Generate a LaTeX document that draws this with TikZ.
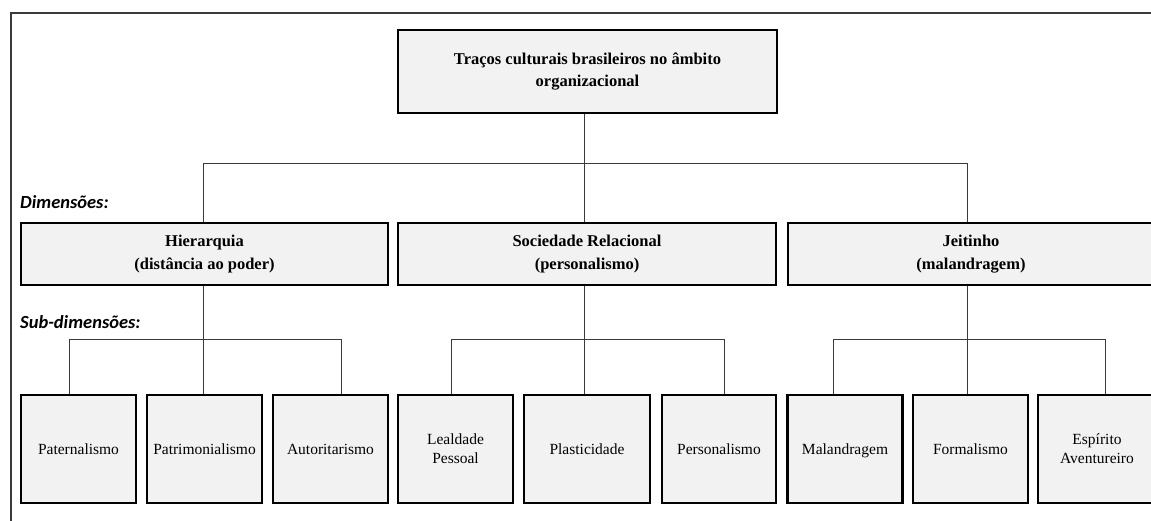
\documentclass[tikz,border=0pt]{standalone}
\usepackage{fontspec}
\setmainfont{Liberation Serif}
\newfontfamily\labelfont{Carlito}
\definecolor{boxgray}{HTML}{F2F2F2}
\definecolor{linegray}{HTML}{3A3A3A}
\begin{document}
\begin{tikzpicture}[x=1pt,y=-1pt,
  box/.style={draw=black, line width=2.8pt, fill=boxgray, inner sep=0pt, align=center},
  rootbox/.style={box, minimum width=379pt, minimum height=83pt, font=\fontsize{16.5}{21}\selectfont\bfseries},
  dimbox/.style={box, minimum height=62pt, font=\fontsize{16.5}{22.5}\selectfont\bfseries},
  subbox/.style={box, minimum height=108pt, minimum width=115pt, font=\fontsize{15.5}{19}\selectfont},
  link/.style={draw=linegray, line width=0.9pt},
  frameline/.style={draw=linegray, line width=1.3pt},
  tag/.style={anchor=base west, inner sep=0pt, font=\labelfont\fontsize{18.5}{20}\selectfont\bfseries\itshape}
]
\useasboundingbox (0,0) rectangle (1151,520);
\clip (0,0) rectangle (1151,520);

% outer frame (top and left edges)
\draw[frameline] (1160,13) -- (11,13) -- (11,530);

% root
\node[rootbox] (root) at (587.5,71.5) {Traços culturais brasileiros no âmbito\\organizacional};

% dimensions
\node[tag] (dimtag) at (20,208) {Dimensões:};
\node[dimbox, minimum width=367pt] (hier) at (204.5,254) {Hierarquia\\(distância ao poder)};
\node[dimbox, minimum width=378pt] (soc) at (587,254) {Sociedade Relacional\\(personalismo)};
\node[dimbox, minimum width=366pt] (jei) at (971,254) {Jeitinho\\(malandragem)};

% sub-dimensions
\node[tag] (subtag) at (20,328) {Sub-dimensões:};
\node[subbox] (pat) at (78.5,449) {Paternalismo};
\node[subbox] (patr) at (204.5,449) {Patrimonialismo};
\node[subbox] (aut) at (330.5,449) {Autoritarismo};
\node[subbox] (leal) at (455.5,449) {Lealdade\\Pessoal};
\node[subbox, minimum width=126pt] (plas) at (587,449) {Plasticidade};
\node[subbox, minimum width=114pt] (pers) at (719,449) {Personalismo};
\node[subbox] (mal) at (845,449) {\raisebox{0pt}[\height][0pt]{Malandragem}};
\node[subbox] (form) at (970.5,449) {Formalismo};
\node[subbox, minimum width=118pt] (esp) at (1097,449) {Espírito\\Aventureiro};

% junction points
\coordinate (d1) at (203,163);
\coordinate (d2) at (584,163);
\coordinate (d3) at (967,163);
\coordinate (h1) at (69,339);
\coordinate (h2) at (203,339);
\coordinate (h3) at (341,339);
\coordinate (s1) at (451,339);
\coordinate (s2) at (584,339);
\coordinate (s3) at (724,339);
\coordinate (j1) at (833,339);
\coordinate (j2) at (967,339);
\coordinate (j3) at (1105,339);

% root to dimensions
\draw[link] (root.south -| d2) -- (soc.north -| d2);
\draw[link] (hier.north -| d1) -- (d1) -- (d3) -- (jei.north -| d3);

% hierarquia group
\draw[link] (hier.south -| h2) -- (patr.north -| h2);
\draw[link] (pat.north -| h1) -- (h1) -- (h3) -- (aut.north -| h3);

% sociedade relacional group
\draw[link] (soc.south -| s2) -- (plas.north -| s2);
\draw[link] (leal.north -| s1) -- (s1) -- (s3) -- (pers.north -| s3);

% jeitinho group
\draw[link] (jei.south -| j2) -- (form.north -| j2);
\draw[link] (mal.north -| j1) -- (j1) -- (j3) -- (esp.north -| j3);
\end{tikzpicture}
\end{document}
